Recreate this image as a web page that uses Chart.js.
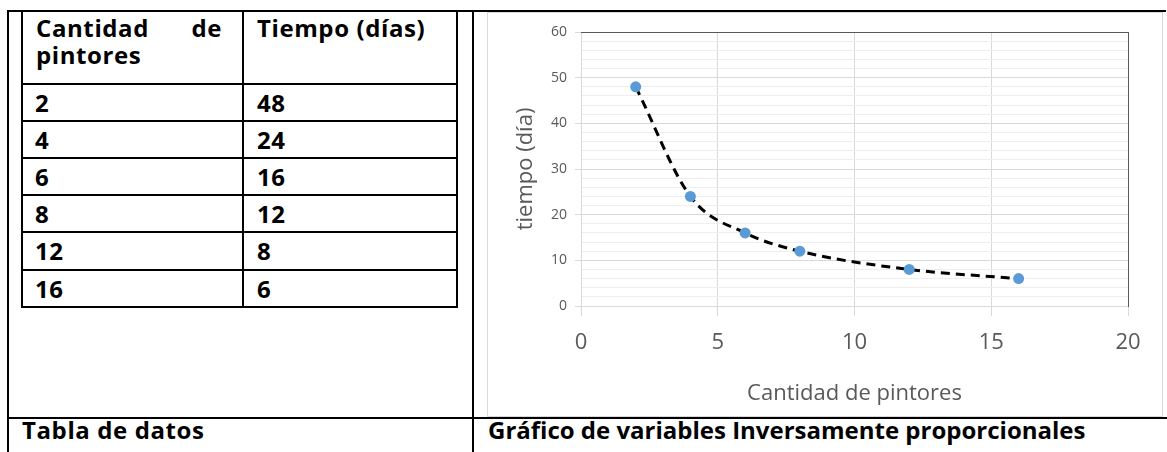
<!DOCTYPE html>
<html>
<head>
<meta charset="utf-8">
<script src="https://cdn.jsdelivr.net/npm/chart.js@4.4.1/dist/chart.umd.min.js"></script>
<style>
  html, body { margin: 0; padding: 0; background: #fff; }
  body { width: 1167px; height: 452px; position: relative; overflow: hidden; font-family: "Open Sans", sans-serif; }
  .ln { position: absolute; background: #000; }
  .tx { position: absolute; font-weight: 700; font-size: 24px; line-height: 27px; letter-spacing: 0.6px; color: #000; white-space: nowrap; }
  #frame { position: absolute; left: 487px; top: 12px; width: 676px; height: 405px; box-sizing: border-box; border: 1px solid #d9d9d9; }
  #chartBox { position: absolute; left: 487px; top: 12px; width: 676px; height: 405px; }
</style>
</head>
<body>
<div id="lines"></div>
<div id="texts"></div>
<div id="frame"></div>
<div id="chartBox"><canvas id="grafico"></canvas></div>
<script>
// datos de la tabla y del gráfico
const pintores = [2, 4, 6, 8, 12, 16];
const dias = [48, 24, 16, 12, 8, 6];
const xTickLabels = [0, 5, 10, 15, 20];
const yTickLabels = [0, 10, 20, 30, 40, 50, 60];
const headers = ['Cantidad de pintores', 'Tiempo (días)'];

// tabla dibujada con lineas absolutas
const lines = [
  [7, 10, 1159, 2], [7, 10, 2, 442], [472, 10, 2, 442], [7, 417, 1160, 2],
  [21, 10, 2, 298], [242, 10, 2, 298], [456, 10, 2, 298]
];
[83, 120, 157, 194, 231, 269, 306].forEach(y => lines.push([21, y, 437, 2]));
const linesEl = document.getElementById('lines');
lines.forEach(([x, y, w, h]) => {
  const d = document.createElement('div');
  d.className = 'ln';
  d.style.cssText = `left:${x}px;top:${y}px;width:${w}px;height:${h}px`;
  linesEl.appendChild(d);
});

const textsEl = document.getElementById('texts');
function addText(txt, x, y, extra) {
  const d = document.createElement('div');
  d.className = 'tx';
  d.textContent = txt;
  d.style.left = x + 'px';
  d.style.top = y + 'px';
  if (extra) Object.assign(d.style, extra);
  textsEl.appendChild(d);
}
addText(headers[0], 36, 14, { width: '186px', whiteSpace: 'normal', textAlign: 'justify', textAlignLast: 'left' });
addText(headers[1], 257, 14);
const rowTops = [83, 120, 157, 194, 231, 269];
pintores.forEach((p, i) => {
  addText(String(p), 35, rowTops[i] + 6);
  addText(String(dias[i]), 257, rowTops[i] + 6);
});
addText('Tabla de datos', 22, 416);
addText('Gráfico de variables Inversamente proporcionales', 488, 416, { letterSpacing: '0px' });

// gráfico
const gray = '#595959';
const points = pintores.map((p, i) => ({ x: p, y: dias[i] }));

new Chart(document.getElementById('grafico'), {
  type: 'scatter',
  data: {
    datasets: [
      {
        data: points,
        backgroundColor: '#5B9BD5',
        borderWidth: 0,
        pointRadius: 5.5,
        pointHoverRadius: 5.5,
        order: 0
      },
      {
        data: points,
        showLine: true,
        borderColor: '#000',
        borderWidth: 3,
        borderDash: [9, 6],
        cubicInterpolationMode: 'monotone',
        pointRadius: 0,
        order: 1
      }
    ]
  },
  options: {
    responsive: true,
    maintainAspectRatio: false,
    animation: false,
    layout: { padding: { top: 20, right: 35, left: 0, bottom: 0 } },
    plugins: { legend: { display: false }, tooltip: { enabled: false } },
    scales: {
      x: {
        type: 'linear',
        min: 0,
        max: 20,
        afterBuildTicks: s => { s.ticks = xTickLabels.map(v => ({ value: v })); },
        afterFit: s => { s.height = 111; },
        grid: { color: '#D9D9D9', tickColor: '#D9D9D9', tickLength: 10 },
        border: { color: '#D9D9D9' },
        ticks: { color: gray, padding: 14, maxRotation: 0, font: { family: 'Open Sans', size: 22 } },
        title: { display: true, text: 'Cantidad de pintores', color: gray, padding: { top: 0, bottom: 10 }, font: { family: 'Open Sans', size: 22 } }
      },
      y: {
        type: 'linear',
        min: 0,
        max: 60,
        afterFit: s => { s.width = 94; },
        ticks: {
          stepSize: 2,
          autoSkip: false,
          color: gray,
          padding: 8,
          font: { family: 'Open Sans', size: 14 },
          callback: v => yTickLabels.includes(v) ? String(v) : ''
        },
        grid: {
          color: c => (c.tick && c.tick.value % 10 === 0) ? '#D9D9D9' : '#EEEEEE',
          tickColor: c => (c.tick && c.tick.value % 10 === 0) ? '#D9D9D9' : 'rgba(0,0,0,0)',
          tickLength: 6
        },
        border: { color: '#D9D9D9' },
        title: { display: true, text: 'tiempo (día)', color: gray, padding: { top: 26, bottom: 0 }, font: { family: 'Open Sans', size: 22 } }
      },
      x2: {
        type: 'linear',
        position: 'top',
        min: 0,
        max: 20,
        afterFit: s => { s.height = 0; },
        grid: { color: 'rgba(0,0,0,0)', drawTicks: false },
        ticks: { display: false },
        border: { color: gray, width: 1 }
      },
      y2: {
        type: 'linear',
        position: 'right',
        min: 0,
        max: 60,
        afterFit: s => { s.width = 0; },
        grid: { color: 'rgba(0,0,0,0)', drawTicks: false },
        ticks: { display: false },
        border: { color: gray, width: 1 }
      }
    }
  }
});
</script>
</body>
</html>
